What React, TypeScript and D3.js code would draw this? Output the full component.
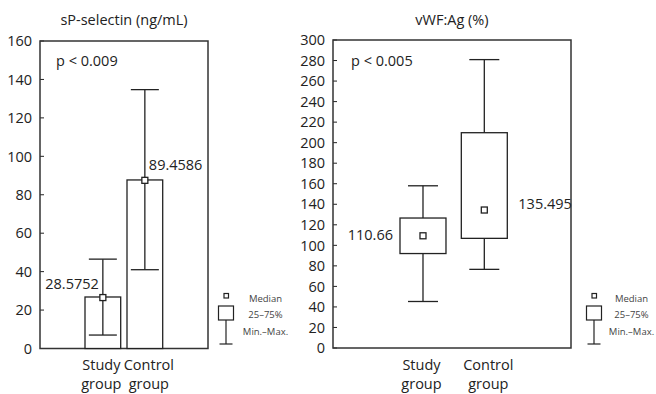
import React from "react";
import * as d3 from "d3";

// groups (two-line labels)
const categories = [["Study", "group"], ["Control", "group"]];

// sP-selectin (ng/mL)
const selectinMin = [7, 41];
const selectinQ1 = [0, 0];
const selectinMedian = [26.5, 87.5];
const selectinQ3 = [26.8, 87.7];
const selectinMax = [46.5, 134.7];
const selectinLabels = ["28.5752", "89.4586"];
const selectinTicks = [0, 20, 40, 60, 80, 100, 120, 140, 160];

// vWF:Ag (%)
const vwfMin = [45.3, 76.6];
const vwfQ1 = [92, 106.8];
const vwfMedian = [109.3, 134.4];
const vwfQ3 = [126.6, 209.7];
const vwfMax = [158, 280.9];
const vwfLabels = ["110.66", "135.495"];
const vwfTicks = d3.range(0, 301, 20);

const legendItems = ["Median", "25–75%", "Min.–Max."];

const FONT = "'Open Sans', sans-serif";
const INK = "#222";
const catShift = [-1.5, 4];

const panels = [
  {
    title: "sP-selectin (ng/mL)",
    pText: "p < 0.009",
    box: { x0: 40, x1: 208, y0: 41, y1: 348.5 },
    domain: [0, 160],
    ticks: selectinTicks,
    band: [85, 162.7],
    pad: 0.15,
    min: selectinMin, q1: selectinQ1, med: selectinMedian, q3: selectinQ3, max: selectinMax,
    labels: selectinLabels,
    through: true,
    capW: 28,
    // label placement: anchor, dx from center, dy from reference value
    labelPos: [
      { anchor: "end", dx: -4, dy: -13, ref: "q3" },
      { anchor: "start", dx: 4, dy: -15, ref: "q3" },
    ],
    legendX: 226,
    textX: 265.5,
    pX: 56,
  },
  {
    title: "vWF:Ag (%)",
    pText: "p < 0.005",
    box: { x0: 333, x1: 571, y0: 40, y1: 348 },
    domain: [0, 300],
    ticks: vwfTicks,
    band: [400, 507.3],
    pad: 0.25,
    min: vwfMin, q1: vwfQ1, med: vwfMedian, q3: vwfQ3, max: vwfMax,
    labels: vwfLabels,
    through: false,
    capW: 30,
    labelPos: [
      { anchor: "end", dx: -30, dy: -1, ref: "med" },
      { anchor: "start", dx: 34, dy: -6, ref: "med" },
    ],
    legendX: 594,
    textX: 631.5,
    pX: 351,
  },
];

function Panel({ p }: { p: any }) {
  const y = d3.scaleLinear().domain(p.domain).range([p.box.y1, p.box.y0]);
  const x = d3.scaleBand<number>().domain([0, 1]).range(p.band).paddingInner(p.pad);
  const bw = x.bandwidth();
  const cx = (i: number) => (x(i) as number) + bw / 2;
  const midX = (p.box.x0 + p.box.x1) / 2;

  return (
    <g>
      <text x={midX} y={25} textAnchor="middle" fontSize={14.5} fontFamily={FONT} fill={INK}>
        {p.title}
      </text>
      {/* ticks */}
      {p.ticks.map((t: number) => (
        <g key={t}>
          <line x1={p.box.x0} x2={p.box.x0 + 4} y1={y(t)} y2={y(t)} stroke={INK} strokeWidth={1} />
          <text x={p.box.x0 - 8} y={y(t)} dy="0.36em" textAnchor="end" fontSize={14.5} fontFamily={FONT} fill={INK}>
            {t}
          </text>
        </g>
      ))}
      <rect
        x={p.box.x0}
        y={p.box.y0}
        width={p.box.x1 - p.box.x0}
        height={p.box.y1 - p.box.y0}
        fill="none"
        stroke="#333"
        strokeWidth={1.5}
      />
      <text x={p.pX} y={61} dy="0.36em" fontSize={14.5} fontFamily={FONT} fill={INK}>
        {p.pText}
      </text>
      {[0, 1].map((i) => {
        const c = cx(i);
        const boxEl = (
          <rect
            x={x(i)}
            y={y(p.q3[i])}
            width={bw}
            height={y(p.q1[i]) - y(p.q3[i])}
            fill="#fff"
            stroke={INK}
            strokeWidth={1.3}
          />
        );
        const whisk = p.through ? (
          <line x1={c} x2={c} y1={y(p.max[i])} y2={y(p.min[i])} stroke={INK} strokeWidth={1.3} />
        ) : (
          <g>
            <line x1={c} x2={c} y1={y(p.max[i])} y2={y(p.q3[i])} stroke={INK} strokeWidth={1.3} />
            <line x1={c} x2={c} y1={y(p.q1[i])} y2={y(p.min[i])} stroke={INK} strokeWidth={1.3} />
          </g>
        );
        const lp = p.labelPos[i];
        const ly = y(lp.ref === "q3" ? p.q3[i] : p.med[i]) + lp.dy;
        return (
          <g key={i}>
            {boxEl}
            {whisk}
            <line x1={c - p.capW / 2} x2={c + p.capW / 2} y1={y(p.max[i])} y2={y(p.max[i])} stroke={INK} strokeWidth={1.3} />
            <line x1={c - p.capW / 2} x2={c + p.capW / 2} y1={y(p.min[i])} y2={y(p.min[i])} stroke={INK} strokeWidth={1.3} />
            <rect x={c - 3} y={y(p.med[i]) - 3} width={6} height={6} fill="#fff" stroke={INK} strokeWidth={1.3} />
            <text x={c + lp.dx} y={ly} dy="0.36em" textAnchor={lp.anchor} fontSize={14.5} fontFamily={FONT} fill={INK}>
              {p.labels[i]}
            </text>
            {categories[i].map((w, k) => (
              <text
                key={k}
                x={c + catShift[i]}
                y={370 + k * 18.5}
                textAnchor="middle"
                fontSize={14.5}
                fontFamily={FONT}
                fill={INK}
              >
                {w}
              </text>
            ))}
          </g>
        );
      })}
      {/* legend */}
      <g>
        <rect x={p.legendX - 2} y={293.5} width={4.5} height={4.5} fill="#fff" stroke={INK} strokeWidth={1.2} />
        <rect x={p.legendX - 7.5} y={306} width={15} height={14} fill="#fff" stroke={INK} strokeWidth={1.2} />
        <line x1={p.legendX} x2={p.legendX} y1={320} y2={344} stroke={INK} strokeWidth={1.2} />
        <line x1={p.legendX - 6.5} x2={p.legendX + 6.5} y1={344} y2={344} stroke={INK} strokeWidth={1.2} />
        {legendItems.map((t, k) => (
          <text
            key={t}
            x={p.textX}
            y={298.5 + k * 16.5}
            dy="0.36em"
            textAnchor="middle"
            fontSize={9.5}
            fontFamily={FONT}
            fill="#444"
          >
            {t}
          </text>
        ))}
      </g>
    </g>
  );
}

export default function App() {
  return (
    <svg
      width={656}
      height={394}
      style={{ position: "absolute", left: 0, top: 0, background: "#fff" }}
    >
      {panels.map((p, i) => (
        <Panel key={i} p={p} />
      ))}
    </svg>
  );
}
